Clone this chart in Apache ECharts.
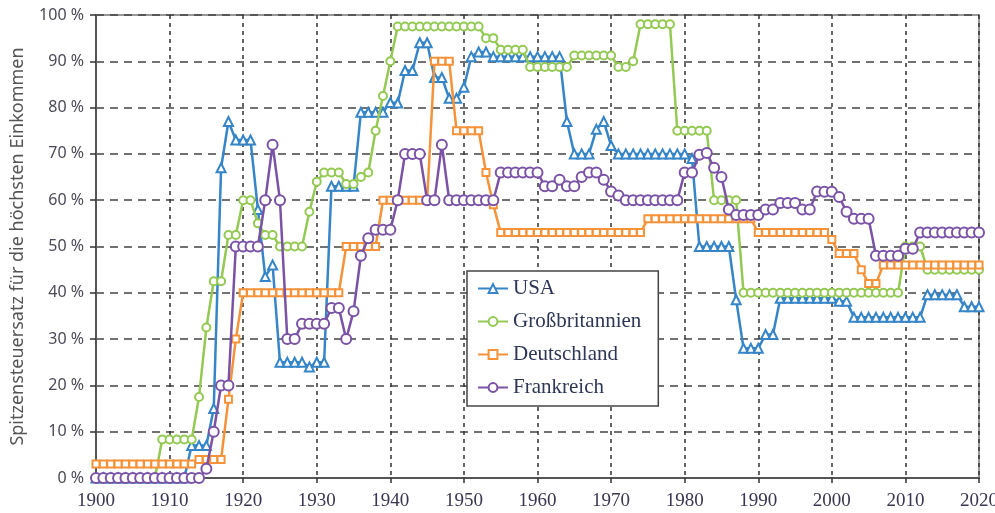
<!DOCTYPE html>
<html>
<head>
<meta charset="utf-8">
<script src="https://cdn.jsdelivr.net/npm/echarts@6/dist/echarts.min.js"></script>
<style>html,body{margin:0;padding:0;background:#fff}#c{width:995px;height:513px}</style>
</head>
<body>
<div id="c"></div>
<script>
// Years 1900..2020
var startYear = 1900;
var endYear = 2020;
var xTicks = [1900,1910,1920,1930,1940,1950,1960,1970,1980,1990,2000,2010,2020];
var seriesNames = ['USA', 'Großbritannien', 'Deutschland', 'Frankreich'];

var usa = [
  0,0,0,0,0,0,0,0,0,0,                         // 1900
  0,0,0,7,7,7,15,67,77,73,                     // 1910
  73,73,58,43.5,46,25,25,25,25,24,             // 1920
  25,25,63,63,63,63,79,79,79,79,               // 1930
  81.1,81,88,88,94,94,86.5,86.5,82,82,         // 1940
  84.4,91,92,92,91,91,91,91,91,91,             // 1950
  91,91,91,91,77,70,70,70,75.3,77,             // 1960
  71.8,70,70,70,70,70,70,70,70,70,             // 1970
  70,69,50,50,50,50,50,38.5,28,28,             // 1980
  28,31,31,38.8,38.8,38.8,38.8,38.8,38.8,38.8, // 1990
  38.8,38.2,38.2,34.7,34.7,34.7,34.7,34.7,34.7,34.7, // 2000
  34.7,34.7,34.7,39.6,39.6,39.6,39.6,39.6,37,37,     // 2010
  37                                            // 2020
];
var gb = [
  0,0,0,0,0,0,0,0,0,8.3,
  8.3,8.3,8.3,8.3,17.5,32.5,42.5,42.5,52.5,52.5,
  60,60,55,52.5,52.5,50,50,50,50,57.5,
  64,66,66,66,63.5,63.5,65,66,75,82.5,
  90,97.5,97.5,97.5,97.5,97.5,97.5,97.5,97.5,97.5,
  97.5,97.5,97.5,95,95,92.5,92.5,92.5,92.5,88.75,
  88.75,88.75,88.75,88.75,88.75,91.25,91.25,91.25,91.25,91.25,
  91.25,88.75,88.75,90,98,98,98,98,98,75,
  75,75,75,75,60,60,60,60,40,40,
  40,40,40,40,40,40,40,40,40,40,
  40,40,40,40,40,40,40,40,40,40,
  50,50,50,45,45,45,45,45,45,45,
  45
];
var de = [
  3,3,3,3,3,3,3,3,3,3,
  3,3,3,3,4,4,4,4,17,30,
  40,40,40,40,40,40,40,40,40,40,
  40,40,40,40,50,50,50,50,50,60,
  60,60,60,60,60,60,90,90,90,75,
  75,75,75,66,59,53,53,53,53,53,
  53,53,53,53,53,53,53,53,53,53,
  53,53,53,53,53,56,56,56,56,56,
  56,56,56,56,56,56,56,56,56,56,
  53,53,53,53,53,53,53,53,53,53,
  51.5,48.5,48.5,48.5,45,42,42,46,46,46,
  46,46,46,46,46,46,46,46,46,46,
  46
];
var fr = [
  0,0,0,0,0,0,0,0,0,0,
  0,0,0,0,0,2,10,20,20,50,
  50,50,50,60,72,60,30,30,33.3,33.3,
  33.3,33.3,36.7,36.7,30,36,48,51.8,53.6,53.6,
  53.6,60,70,70,70,60,60,72,60,60,
  60,60,60,60,60,66,66,66,66,66,
  66,63,63,64.4,63,63,65,66,66,64.4,
  61.9,61,60,60,60,60,60,60,60,60,
  66,66,69.8,70.2,67,65,58,56.8,56.8,56.8,
  56.8,58,58,59.4,59.4,59.4,58,58,61.9,61.8,
  61.8,60.7,57.5,56,56,56,48,48,48,48,
  49.5,49.5,53,53,53,53,53,53,53,53,
  53
];

function pairs(vals){
  var out = [];
  for (var i = 0; i < vals.length; i++) out.push([startYear + i, vals[i]]);
  return out;
}

var colors = ['#3585c8', '#94c954', '#f6933a', '#7a52a6'];
var symbols = ['emptyTriangle', 'emptyCircle', 'emptyRect', 'emptyCircle'];
var sizes = [9, 8, 7, 10];
var allVals = [usa, gb, de, fr];

var series = [];
for (var k = 0; k < 4; k++) {
  series.push({
    name: seriesNames[k],
    type: 'line',
    data: pairs(allVals[k]),
    symbol: symbols[k],
    symbolSize: sizes[k],
    showAllSymbol: true,
    color: colors[k],
    lineStyle: { color: colors[k], width: 2.5 },
    itemStyle: { color: colors[k], borderColor: colors[k], borderWidth: 1.6 },
    z: 2 + k,
    animation: false
  });
}

var chart = echarts.init(document.getElementById('c'), null, { renderer: 'canvas' });
chart.setOption({
  animation: false,
  grid: { left: 96, right: 16, top: 15, bottom: 35, outerBoundsMode: 'none', containLabel: false,
    show: true, borderColor: '#777', borderWidth: 1.5, backgroundColor: 'transparent' },
  legend: {
    data: seriesNames,
    orient: 'vertical',
    left: 467, top: 271,
    padding: [7, 17, 8, 10],
    itemGap: 12,
    itemWidth: 30,
    itemHeight: 11,
    backgroundColor: '#fff',
    borderColor: '#444',
    borderWidth: 1.5,
    borderRadius: 0,
    textStyle: { fontFamily: 'Liberation Serif', fontSize: 21, color: '#2e3656', lineHeight: 21 }
  },
  xAxis: {
    type: 'value', min: startYear, max: endYear, interval: 10,
    axisLine: { show: true, onZero: false, lineStyle: { color: '#555', width: 2 } },
    axisTick: { show: true, length: 5, lineStyle: { color: '#333', width: 1.5 } },
    axisLabel: { fontFamily: 'Liberation Serif', fontSize: 19, color: '#3a3550', margin: 14,
      formatter: function (v) { return xTicks.indexOf(v) >= 0 ? String(v) : ''; } },
    splitLine: { show: true, lineStyle: { color: '#333', width: 1.5, type: [4, 4] } }
  },
  yAxis: {
    type: 'value', min: 0, max: 100, interval: 10,
    name: 'Spitzensteuersatz für die höchsten Einkommen',
    nameLocation: 'middle', nameGap: 69,
    nameTextStyle: { fontFamily: 'Noto Sans', fontSize: 18, color: '#555' },
    axisLine: { show: true, lineStyle: { color: '#555', width: 2 } },
    axisTick: { show: true, length: 6, lineStyle: { color: '#333', width: 1.5 } },
    axisLabel: { fontFamily: 'Noto Sans', fontSize: 16, color: '#4a4a58', margin: 12, formatter: '{value} %' },
    splitLine: { show: true, lineStyle: { color: '#444', width: 1.5, type: [8, 6] } }
  },
  series: series
});
</script>
</body>
</html>
